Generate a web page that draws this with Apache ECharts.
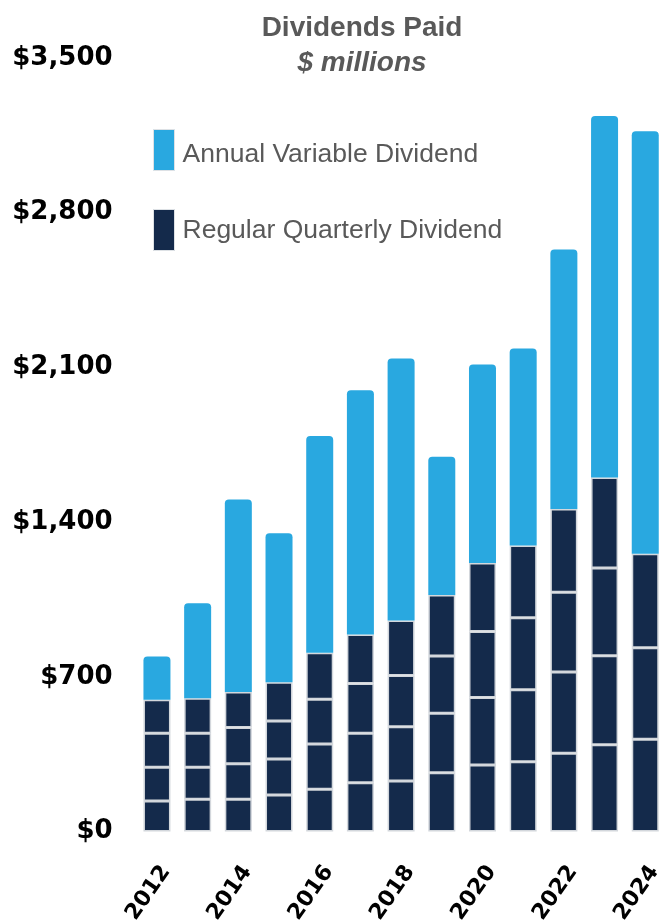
<!DOCTYPE html>
<html>
<head>
<meta charset="utf-8">
<script src="https://cdn.jsdelivr.net/npm/echarts@6/dist/echarts.min.js"></script>
<style>
  html, body { margin: 0; padding: 0; background: #ffffff; }
  #chart { width: 661px; height: 923px; }
</style>
</head>
<body>
<div id="chart"></div>
<script>
// Dividends paid per year, $ millions
const years = ['2012', '2013', '2014', '2015', '2016', '2017', '2018',
               '2019', '2020', '2021', '2022', '2023', '2024'];

// Regular quarterly dividend, one array per quarter
const q1 = [138, 146, 146, 165, 191, 221, 229, 266, 301, 316, 354, 392, 417];
const q2 = [153, 145, 160, 163, 205, 224, 245, 269, 305, 325, 368, 403, 414];
const q3 = [154, 154, 165, 172, 202, 225, 232, 259, 299, 326, 361, 397, 426];
const q4 = [151, 158, 160, 175, 211, 221, 249, 276, 310, 327, 376, 410, null];

// Annual variable dividend
const variable = [196, 430, 871, 675, 981, 1106, 1185, 626, 898, 891, 1174, 1635, 1911];

// Value axis ticks
const yTicks = [0, 700, 1400, 2100, 2800, 3500];

const NAVY = '#142a4b';
const BLUE = '#29a8e0';
const EDGE = '#d3d7dc';
const GREY_TEXT = '#595959';
const FONT_SANS = '"Liberation Sans", Arial, sans-serif';

const quarterSeries = [q1, q2, q3, q4].map(function (d) {
  return {
    name: 'Regular Quarterly Dividend',
    type: 'bar',
    stack: 'dividends',
    data: d,
    barWidth: 27,
    itemStyle: { color: NAVY, borderColor: EDGE, borderWidth: 1.5 },
    emphasis: { disabled: true }
  };
});

// Legend label style; top padding nudges the text down beside the tall swatch
function legendText(padTop) {
  return {
    fontSize: 26.5,
    color: GREY_TEXT,
    fontFamily: FONT_SANS,
    rich: {
      t: {
        fontSize: 26.5,
        color: GREY_TEXT,
        fontFamily: FONT_SANS,
        padding: [padTop, 0, 0, 3]
      }
    }
  };
}

const chart = echarts.init(document.getElementById('chart'), null, { renderer: 'canvas' });

chart.setOption({
  animation: false,
  backgroundColor: '#ffffff',
  graphic: [
    {
      type: 'text', x: 362, y: 28,
      style: {
        text: 'Dividends Paid', align: 'center', verticalAlign: 'middle',
        font: 'bold 28px ' + FONT_SANS, fill: GREY_TEXT
      }
    },
    {
      type: 'text', x: 362, y: 63,
      style: {
        text: '$ millions', align: 'center', verticalAlign: 'middle',
        font: 'italic bold 28px ' + FONT_SANS, fill: GREY_TEXT
      }
    }
  ],
  legend: [
    {
      data: ['Annual Variable Dividend'],
      left: 153, top: 129, padding: 0,
      icon: 'rect', itemWidth: 21, itemHeight: 41,
      selectedMode: false,
      itemStyle: { borderColor: '#dde1e5', borderWidth: 1 },
      formatter: '{t|{name}}',
      textStyle: legendText(9)
    },
    {
      data: ['Regular Quarterly Dividend'],
      left: 153, top: 209, padding: 0,
      icon: 'rect', itemWidth: 21, itemHeight: 41,
      selectedMode: false,
      itemStyle: { borderColor: '#dde1e5', borderWidth: 1 },
      formatter: '{t|{name}}',
      textStyle: legendText(2)
    }
  ],
  grid: {
    left: 136.6, top: 58, width: 529, bottom: 91.5,
    containLabel: false, outerBoundsMode: 'none'
  },
  xAxis: {
    type: 'category',
    data: years,
    axisLine: { show: false },
    axisTick: { show: false },
    axisLabel: {
      interval: 1,
      rotate: 55,
      margin: 30,
      verticalAlign: 'top',
      color: '#000000',
      fontSize: 22,
      fontWeight: 'bold',
      fontFamily: '"DejaVu Sans", sans-serif'
    }
  },
  yAxis: {
    type: 'value',
    min: yTicks[0],
    max: yTicks[yTicks.length - 1],
    interval: yTicks[1] - yTicks[0],
    axisLine: { show: false },
    axisTick: { show: false },
    splitLine: { show: false },
    axisLabel: {
      margin: 24,
      color: '#000000',
      fontSize: 26,
      fontWeight: 'bold',
      fontFamily: '"DejaVu Sans", sans-serif',
      formatter: function (v) { return '$' + v.toLocaleString('en-US'); }
    }
  },
  series: quarterSeries.concat([
    {
      name: 'Annual Variable Dividend',
      type: 'bar',
      stack: 'dividends',
      data: variable,
      barWidth: 27,
      itemStyle: { color: BLUE, borderRadius: [4, 4, 0, 0] },
      emphasis: { disabled: true }
    }
  ])
});
</script>
</body>
</html>
